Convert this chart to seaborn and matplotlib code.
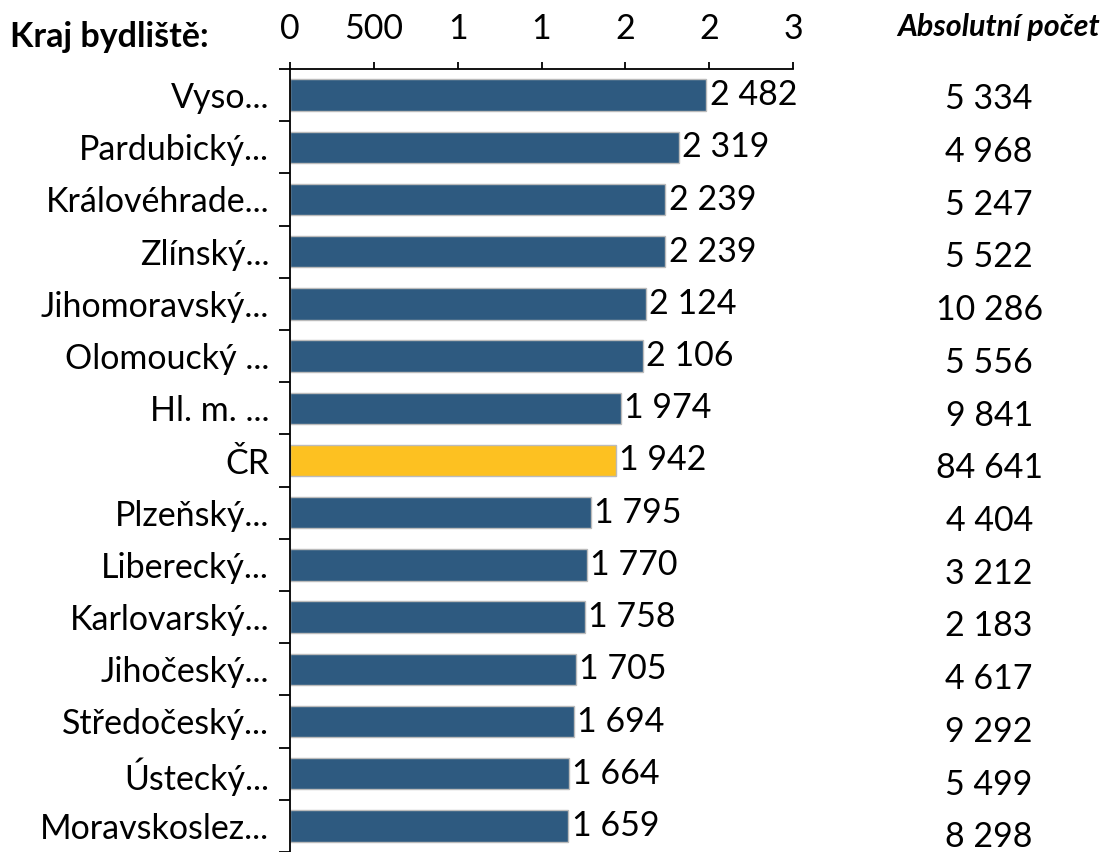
import pandas as pd
import numpy as np
import matplotlib.pyplot as plt
import seaborn as sns
from matplotlib.ticker import FixedLocator, FixedFormatter

kraje = ["Vyso...", "Pardubický...", "Královéhrade...", "Zlínský...", "Jihomoravský...",
         "Olomoucký ...", "Hl. m. ...", "ČR", "Plzeňský...", "Liberecký...",
         "Karlovarský...", "Jihočeský...", "Středočeský...", "Ústecký...", "Moravskoslez..."]
na_100k = [2482, 2319, 2239, 2239, 2124, 2106, 1974, 1942, 1795, 1770, 1758, 1705, 1694, 1664, 1659]
absolutni = [5334, 4968, 5247, 5522, 10286, 5556, 9841, 84641, 4404, 3212, 2183, 4617, 9292, 5499, 8298]
x_ticks = [0, 500, 1000, 1500, 2000, 2500, 3000]
x_tick_labels = ["0", "500", "1", "1", "2", "2", "3"]

def fmt(v):
    return f"{v:,}".replace(",", " ")

df = pd.DataFrame({"kraj": kraje, "hodnota": na_100k, "abs": absolutni})
barvy = ["#FDC121" if k == "ČR" else "#2E5A80" for k in kraje]

sns.set_style("white")
plt.rcParams["font.family"] = ["Lato", "DejaVu Sans"]
plt.rcParams["text.color"] = "black"
plt.rcParams["xtick.color"] = "black"
plt.rcParams["ytick.color"] = "black"
fs = 24.5

fig = plt.figure(figsize=(11.07, 8.52), dpi=100)
ax = fig.add_axes([290 / 1107, 0.0, (793 - 290) / 1107, (852 - 69) / 852])

sns.barplot(data=df, y="kraj", x="hodnota", hue="kraj", palette=barvy, legend=False,
            orient="h", width=0.6, saturation=1, edgecolor="#BBBBBB", linewidth=1, ax=ax)

ax.set_xlim(0, 3000)
ax.set_ylim(len(kraje) - 0.5, -0.5)
ax.xaxis.tick_top()
ax.xaxis.set_major_locator(FixedLocator(x_ticks))
ax.xaxis.set_major_formatter(FixedFormatter(x_tick_labels))
ax.tick_params(axis="x", direction="out", length=5, width=1.3, labelsize=fs, pad=12, colors="black")
ax.set_yticks(np.arange(len(kraje) + 1) - 0.5, minor=False)
ax.set_yticklabels([])
ax.set_yticks(np.arange(len(kraje)), minor=True)
ax.set_yticklabels(kraje, minor=True, fontsize=fs)
ax.tick_params(axis="y", which="major", direction="out", length=8, width=1.3, left=True)
ax.tick_params(axis="y", which="minor", length=0, pad=15)
ax.set_xlabel("")
ax.set_ylabel("")
for s in ["right", "bottom"]:
    ax.spines[s].set_visible(False)
for s in ["top", "left"]:
    ax.spines[s].set_linewidth(1.3)
    ax.spines[s].set_color("black")

for i, v in enumerate(na_100k):
    ax.text(v + 20, i, fmt(v), va="center", ha="left", fontsize=fs)

for i, a in enumerate(absolutni):
    ax.text(1.39, i * 1.01 + 0.08, fmt(a), transform=ax.get_yaxis_transform(),
            va="center", ha="center", fontsize=fs)

fig.text(10 / 1107, 1 - 37 / 852, "Kraj bydliště:", fontsize=fs, fontweight="bold", va="center", ha="left")
fig.text(1100 / 1107, 1 - 27 / 852, "Absolutní počet", fontsize=fs - 2.5, fontweight="bold",
         fontstyle="italic", va="center", ha="right")

plt.savefig("out.png", dpi=100)
